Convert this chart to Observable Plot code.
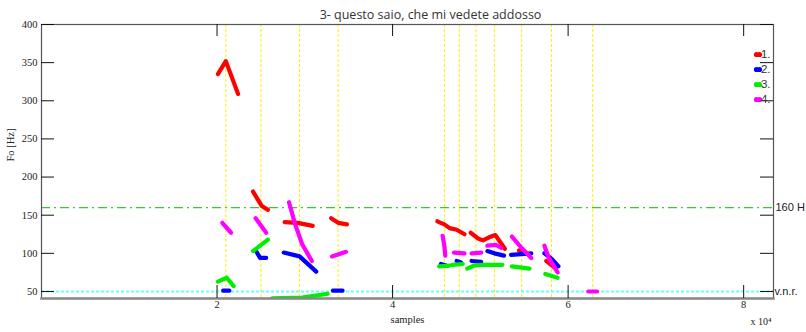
<!DOCTYPE html>
<html>
<head>
<meta charset="utf-8">
<script src="https://cdn.jsdelivr.net/npm/d3@7"></script>
<script src="https://cdn.jsdelivr.net/npm/@observablehq/plot@0.6"></script>
<style>
  html, body { margin: 0; padding: 0; background: #fff; }
</style>
</head>
<body>
<div id="chart"></div>
<script>
// ---- data (x in samples ×10^4, y = Fo in Hz) ----
const titleText = "3- questo saio, che mi vedete addosso";
const seriesNames = ["1.", "2.", "3.", "4."];
const seriesColors = ["#ff0000", "#0000ff", "#00ee00", "#ff00ff"];

const series1 = [
  [[2.01,335],[2.10,352],[2.24,309]],
  [[2.41,181],[2.51,162],[2.58,157]],
  [[2.77,141],[2.92,140],[3.09,136]],
  [[3.30,146],[3.38,140],[3.48,138]],
  [[4.51,142],[4.59,138],[4.65,133],[4.73,131],[4.82,125]],
  [[4.89,127],[4.98,119],[5.03,117],[5.10,121],[5.17,124],[5.28,106]],
  [[5.44,104],[5.52,101]],
  [[5.75,90],[5.86,80]]
];
const series2 = [
  [[2.07,51],[2.14,51]],
  [[2.45,102],[2.49,94],[2.56,94]],
  [[2.76,101],[2.94,96],[3.13,76]],
  [[3.32,51],[3.43,51]],
  [[4.55,86],[4.61,84]],
  [[4.73,90],[4.78,88]],
  [[4.90,90],[5.01,89]],
  [[5.08,103],[5.16,100],[5.27,97]],
  [[5.35,98],[5.58,100]],
  [[5.73,100],[5.81,93],[5.89,83]]
];
const series3 = [
  [[2.01,63],[2.11,68],[2.19,57]],
  [[2.41,103],[2.58,118]],
  [[2.63,41],[2.97,42],[3.26,47]],
  [[4.53,83],[4.65,84]],
  [[4.68,85],[4.80,86]],
  [[4.85,80],[4.93,84],[5.02,85],[5.25,85]],
  [[5.36,83],[5.56,80]],
  [[5.74,73],[5.88,68]]
];
const series4 = [
  [[2.06,140],[2.16,127]],
  [[2.44,146],[2.56,127]],
  [[2.82,167],[2.89,138],[2.97,112],[3.08,90]],
  [[3.31,96],[3.47,102]],
  [[4.57,123],[4.59,110],[4.60,97]],
  [[4.70,101],[4.82,100]],
  [[4.90,100],[5.01,101]],
  [[5.08,110],[5.18,111],[5.24,107]],
  [[5.36,122],[5.47,107],[5.58,94]],
  [[5.73,110],[5.78,94],[5.88,75]],
  [[6.23,50],[6.33,50]]
];
const syllableMarks = [2.10, 2.50, 2.94, 3.38, 4.59, 4.76, 4.95, 5.16, 5.47, 5.81, 6.28];
const refHigh = 160;
const refLow = 50;
const refLabels = ["160 H", "v.n.r."];
const xTicks = [2, 4, 6, 8];
const yTicks = [50, 100, 150, 200, 250, 300, 350, 400];
const xLabel = "samples";
const yLabel = "Fo [Hz]";
const xExponent = "x 10\u2074";

// ---- build table ----
const allSeries = [series1, series2, series3, series4];
const rows = [];
allSeries.forEach((segs, si) => {
  segs.forEach((seg, gi) => {
    seg.forEach(([x, y]) => rows.push({series: seriesNames[si], seg: si + "-" + gi, x, y}));
  });
});

const W = 806, H = 332;
const mL = 41, mR = 33, mT = 24, mB = 34;
const pw = W - mL - mR, ph = H - mT - mB;

const legendMarks = seriesNames.flatMap((name, i) => [
  Plot.dot([name], {frameAnchor: "top-right", dx: -14, dy: 30 + 15 * i, r: 2.6, fill: seriesColors[i], stroke: null}),
  Plot.dot([name], {frameAnchor: "top-right", dx: -17, dy: 30 + 15 * i, r: 2.6, fill: seriesColors[i], stroke: null}),
  Plot.text([name], {frameAnchor: "top-right", dx: -3, dy: 30 + 15 * i, textAnchor: "end", lineAnchor: "middle", fontSize: 11.5, fontFamily: "Liberation Sans", fill: "#333"})
]);

const chart = Plot.plot({
  width: W,
  height: H,
  marginLeft: mL,
  marginRight: mR,
  marginTop: mT,
  marginBottom: mB,
  style: {fontFamily: "Liberation Serif", fontSize: "10px", background: "#fff", overflow: "visible"},
  x: {domain: [0, 8.34], axis: null},
  y: {domain: [40.8, 400], axis: null},
  color: {domain: seriesNames, range: seriesColors},
  marks: [
    Plot.ruleX(syllableMarks, {stroke: "#ffee00", strokeWidth: 1, strokeDasharray: "3,2"}),
    Plot.ruleY([refHigh], {stroke: "#33cc33", strokeWidth: 1.3, strokeDasharray: "9,4,2,4"}),
    Plot.ruleY([refLow], {stroke: "#66ffff", strokeWidth: 2, strokeDasharray: "3,2"}),
    Plot.line(rows, {x: "x", y: "y", z: "seg", stroke: "series", strokeWidth: 4.2, strokeLinecap: "round", strokeLinejoin: "round", clip: true}),
    // frame
    Plot.frame({stroke: "#555", strokeWidth: 1.2}),
    Plot.frame({anchor: "bottom", stroke: "#888", strokeWidth: 2.5}),
    // inward ticks
    Plot.tickY(yTicks, {y: d => d, insetRight: pw - 13, stroke: "#111"}),
    Plot.tickY(yTicks, {y: d => d, insetLeft: pw - 13, stroke: "#111"}),
    Plot.tickX(xTicks, {x: d => d, insetBottom: ph - 12, stroke: "#111"}),
    Plot.tickX(xTicks, {x: d => d, insetTop: ph - 13, stroke: "#111"}),
    // tick labels
    Plot.text(yTicks, {y: d => d, text: d => String(d), frameAnchor: "left", dx: -4, textAnchor: "end", fill: "#222", fontSize: 10.5}),
    Plot.text(xTicks, {x: d => d, text: d => String(d), frameAnchor: "bottom", dy: 9, fill: "#222", fontSize: 10.5}),
    // axis labels
    Plot.text([xLabel], {frameAnchor: "bottom", dy: 24, fill: "#222", fontSize: 10.5}),
    Plot.text([yLabel], {frameAnchor: "left", dx: -31, rotate: -90, fill: "#222", fontSize: 10.5}),
    Plot.text([xExponent], {frameAnchor: "bottom-right", dx: -2, dy: 26, textAnchor: "end", fill: "#222", fontSize: 10}),
    // title
    Plot.text([titleText], {frameAnchor: "top", dx: 23, dy: -14, fontFamily: "Open Sans", fontSize: 12.5, fill: "#333"}),
    // reference labels
    Plot.text([refHigh], {y: d => d, text: () => refLabels[0], frameAnchor: "right", dx: 2, textAnchor: "start", fontFamily: "Liberation Sans", fontSize: 11, fill: "#222"}),
    Plot.text([refLow], {y: d => d, text: () => refLabels[1], frameAnchor: "right", dx: 1, textAnchor: "start", fontFamily: "Liberation Sans", fontSize: 11, fill: "#222"}),
    ...legendMarks
  ]
});
document.getElementById("chart").appendChild(chart);
</script>
</body>
</html>
